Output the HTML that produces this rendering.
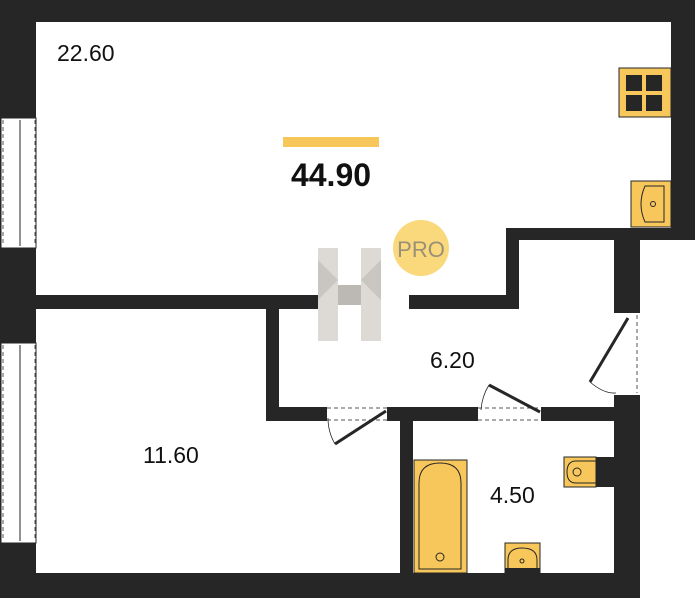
<!DOCTYPE html>
<html><head><style>body{margin:0;background:#fff}</style></head><body>
<svg width="697" height="600" xmlns="http://www.w3.org/2000/svg" style="display:block">
<rect width="697" height="600" fill="#fff"/>
<g fill="#262626">
<rect x="0" y="0" width="695" height="22"/>
<rect x="0" y="0" width="36" height="598"/>
<rect x="671" y="0" width="24" height="240"/>
<rect x="506" y="228" width="189" height="12"/>
<rect x="506" y="228" width="13" height="81"/>
<rect x="614" y="228" width="26" height="370"/>
<rect x="36" y="295" width="284" height="14"/>
<rect x="409" y="295" width="110" height="14"/>
<rect x="266" y="295" width="13" height="126"/>
<rect x="266" y="407" width="61" height="14"/>
<rect x="387" y="407" width="91" height="14"/>
<rect x="541" y="407" width="75" height="14"/>
<rect x="400" y="407" width="13" height="170"/>
<rect x="0" y="573" width="640" height="25"/>
</g>
<!-- windows -->
<g fill="#fff" stroke="#262626" stroke-width="1">
<rect x="1" y="118" width="35" height="130"/>
<rect x="1" y="343" width="35" height="200"/>
<rect x="614" y="313" width="26" height="82" stroke="none"/>
<rect x="327" y="407" width="60" height="14" stroke="none"/>
<rect x="478" y="407" width="63" height="14" stroke="none"/>
</g>
<g stroke="#555" stroke-dasharray="4,3" fill="none">
<line x1="3" y1="120" x2="3" y2="246"/><line x1="35" y1="120" x2="35" y2="246"/>
<line x1="3" y1="345" x2="3" y2="541"/><line x1="35" y1="345" x2="35" y2="541"/>
<line x1="637" y1="315" x2="637" y2="393"/>
<line x1="327" y1="408" x2="387" y2="408"/><line x1="327" y1="420" x2="387" y2="420"/>
<line x1="478" y1="408" x2="541" y2="408"/><line x1="478" y1="420" x2="541" y2="420"/>
</g>
<g stroke="#262626" fill="none" stroke-width="1">
<line x1="20" y1="120" x2="20" y2="246"/><line x1="20" y1="345" x2="20" y2="541"/>
<line x1="15" y1="118" x2="25" y2="118"/><line x1="15" y1="248" x2="25" y2="248"/>
<line x1="15" y1="343" x2="25" y2="343"/><line x1="15" y1="543" x2="25" y2="543"/>
</g>
<!-- doors -->
<g stroke="#262626" stroke-width="3" fill="none">
<line x1="628" y1="318" x2="590" y2="382"/>
<line x1="386" y1="411" x2="335" y2="444"/>
<line x1="540" y1="412" x2="489" y2="385"/>
</g>
<g stroke="#262626" stroke-width="0.8" fill="none">
<path d="M590 382 Q604 394 616 393"/>
<path d="M335 444 Q328 432 328 418"/>
<path d="M489 385 Q482 396 481 410"/>
</g>
<!-- fixtures -->
<rect x="619" y="68" width="52" height="49" fill="#f7c75b" stroke="#262626"/>
<g fill="#262626"><rect x="626" y="75" width="16" height="16"/><rect x="646" y="75" width="16" height="16"/><rect x="626" y="95" width="16" height="16"/><rect x="646" y="95" width="16" height="16"/></g>
<rect x="631" y="181" width="40" height="46" fill="#f7c75b" stroke="#262626"/>
<path d="M664 186 L645 186 Q637 204 645 222 L664 222 Z" fill="#f7c75b" stroke="#262626"/>
<circle cx="653" cy="204" r="2.5" fill="none" stroke="#262626"/>
<rect x="414" y="460" width="53" height="113" fill="#f7c75b" stroke="#262626"/>
<path d="M419 569 L419 483 Q419 463 440 463 Q461 463 461 483 L461 569 Z" fill="#f7c75b" stroke="#262626"/>
<circle cx="440" cy="557" r="4" fill="none" stroke="#262626"/>
<rect x="564" y="457" width="32" height="30" fill="#f7c75b" stroke="#262626"/>
<rect x="596" y="457" width="18" height="30" fill="#262626"/>
<path d="M596 461 L576 461 Q567 461 567 472 Q567 483 576 483 L596 483 Z" fill="#f7c75b" stroke="#262626"/>
<circle cx="577" cy="472" r="4" fill="none" stroke="#262626"/>
<rect x="505" y="543" width="35" height="30" fill="#f7c75b" stroke="#262626"/>
<path d="M508 570 L508 560 Q508 548 522 548 Q537 548 537 560 L537 570 Z" fill="#f7c75b" stroke="#262626"/>
<circle cx="522" cy="561" r="2" fill="none" stroke="#262626"/>
<rect x="505" y="568" width="35" height="5" fill="#262626"/>
<!-- logo -->
<g>
<rect x="318" y="248" width="20" height="93" fill="#ddd9d5"/>
<rect x="361" y="248" width="20" height="93" fill="#ddd9d5"/>
<rect x="338" y="285" width="23" height="20" fill="#bcb8b2"/>
<polygon points="318,260 338,280 318,300" fill="#c9c5c0"/>
<polygon points="381,260 361,280 381,300" fill="#c9c5c0"/>
</g>
<circle cx="421" cy="248" r="28" fill="#f9d97c"/>
<text x="421" y="257" font-family="Liberation Sans, sans-serif" font-size="22" fill="#9a8f78" text-anchor="middle">PRO</text>
<rect x="283" y="137" width="96" height="10" fill="#f7c75b"/>
<g font-family="Liberation Sans, sans-serif" fill="#111">
<text x="331" y="186" font-size="32" font-weight="bold" text-anchor="middle">44.90</text>
<text x="57" y="61" font-size="23">22.60</text>
<text x="430" y="368" font-size="23">6.20</text>
<text x="143" y="463" font-size="23">11.60</text>
<text x="490" y="503" font-size="23">4.50</text>
</g>
</svg>
</body></html>
